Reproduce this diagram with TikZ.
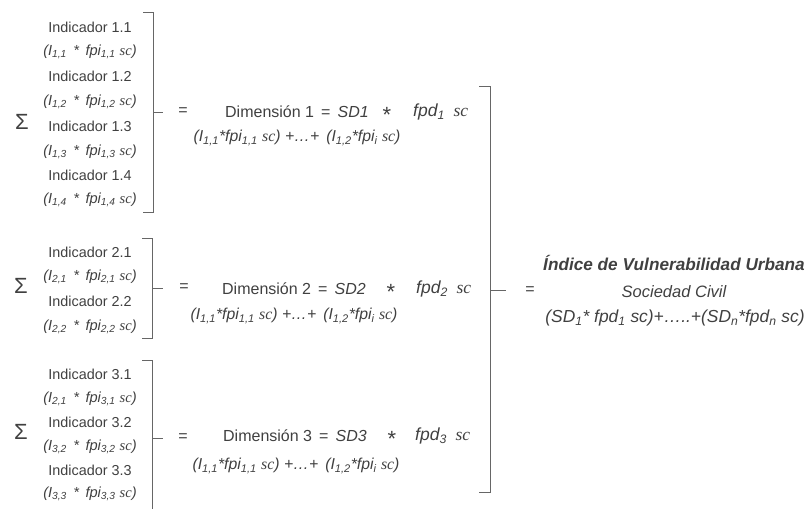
\documentclass[tikz,border=0pt]{standalone}
\usepackage{fontspec}
\setmainfont{Liberation Sans}
\newfontfamily\tms{Liberation Serif}
\definecolor{txt}{gray}{0.25}
\definecolor{ln}{gray}{0.40}
\newcommand\sbs[1]{\textsubscript{#1}}
\newcommand\scs{{\tms\itshape sc}}
\newcommand\indf[2]{(I\sbs{#1} \,*\, fpi\sbs{#2} \scs)}
\newcommand\dimf{(I\sbs{1,1}*fpi\sbs{1,1} \scs) +\ldots+ \,(I\sbs{1,2}*fpi\sbs{i} \scs)}
\newcommand\fpdf[1]{\textit{fpd\sbs{#1}}\hspace{0.5em}\scs}
\tikzset{
  lbl/.style={inner sep=0pt, text=txt, font=\fontsize{14.4}{16}\selectfont},
  frm/.style={inner sep=0pt, text=txt, font=\fontsize{14.6}{16}\selectfont\itshape},
  dimt/.style={inner sep=0pt, text=txt, font=\fontsize{16}{18}\selectfont},
  fpdt/.style={inner sep=0pt, text=txt, font=\fontsize{17.5}{18}\selectfont},
  astt/.style={inner sep=0pt, text=txt, font=\fontsize{22}{22}\selectfont},
  dimf/.style={inner sep=0pt, text=txt, font=\fontsize{15.8}{18}\selectfont\itshape},
  sig/.style={inner sep=0pt, text=txt, font=\fontsize{22}{24}\selectfont},
  eqs/.style={inner sep=0pt, text=txt, font=\fontsize{16}{18}\selectfont},
  rgt/.style={inner sep=0pt, text=txt, font=\fontsize{16.5}{19}\selectfont\itshape},
  brk/.style={draw=ln, line width=0.9pt},
}
\begin{document}
\begin{tikzpicture}[x=1pt,y=-1pt]
\useasboundingbox (0,0) rectangle (807,509);
% ---------- group 1
\node[lbl] (i11) at (90,27) {Indicador 1.1};
\node[frm] (f11) at (90,52) {\indf{1,1}{1,1}};
\node[lbl] (i12) at (90,76) {Indicador 1.2};
\node[frm] (f12) at (90,102) {\indf{1,2}{1,2}};
\node[lbl] (i13) at (90,126) {Indicador 1.3};
\node[frm] (f13) at (90,152) {\indf{1,3}{1,3}};
\node[lbl] (i14) at (90,175) {Indicador 1.4};
\node[frm] (f14) at (90,200) {\indf{1,4}{1,4}};
\node[sig] (s1) at (22,122) {Σ};
\coordinate (b1t) at (143,12);
\coordinate (b1b) at (143,212);
\coordinate (b1m) at (163,112);
\draw[brk] (b1t) -- (153,12) -- (153,212) -- (b1b);
\draw[brk] (153,112) -- (b1m);
\node[eqs] (e1) at (183,112) {=};
\node[dimt] (d1) at (297,112) {Dimensión 1 \,=\, \textit{SD1}};
\node[astt] (x1) at (387,115) {*};
\node[fpdt, anchor=west] (p1) at (413,112) {\fpdf{1}};
\node[dimf] (df1) at (297,138) {\dimf};
% ---------- group 2
\node[lbl] (i21) at (90,252) {Indicador 2.1};
\node[frm] (f21) at (90,277) {\indf{2,1}{2,1}};
\node[lbl] (i22) at (90,301) {Indicador 2.2};
\node[frm] (f22) at (90,327) {\indf{2,2}{2,2}};
\node[sig] (s2) at (21,286) {Σ};
\coordinate (b2t) at (142,238);
\coordinate (b2b) at (142,338);
\coordinate (b2m) at (163,288);
\draw[brk] (b2t) -- (152,238) -- (152,338) -- (b2b);
\draw[brk] (152,288) -- (b2m);
\node[eqs] (e2) at (184,288) {=};
\node[dimt] (d2) at (294,289) {Dimensión 2 \,=\, \textit{SD2}};
\node[astt] (x2) at (391,292) {*};
\node[fpdt, anchor=west] (p2) at (416,289) {\fpdf{2}};
\node[dimf] (df2) at (294,316) {\dimf};
% ---------- group 3
\node[lbl] (i31) at (90,374) {Indicador 3.1};
\node[frm] (f31) at (90,399) {\indf{2,1}{3,1}};
\node[lbl] (i32) at (90,422) {Indicador 3.2};
\node[frm] (f32) at (90,447) {\indf{3,2}{3,2}};
\node[lbl] (i33) at (90,470) {Indicador 3.3};
\node[frm] (f33) at (90,494) {\indf{3,3}{3,3}};
\node[sig] (s3) at (21,432) {Σ};
\coordinate (b3t) at (142,360);
\coordinate (b3b) at (152,520);
\coordinate (b3m) at (163,438);
\draw[brk] (b3t) -- (152,360) -- (b3b);
\draw[brk] (152,438) -- (b3m);
\node[eqs] (e3) at (183,438) {=};
\node[dimt] (d3) at (295,436) {Dimensión 3 \,=\, \textit{SD3}};
\node[astt] (x3) at (392,439) {*};
\node[fpdt, anchor=west] (p3) at (415,436) {\fpdf{3}};
\node[dimf] (df3) at (296,466) {\dimf};
% ---------- big bracket
\coordinate (bbt) at (479,86);
\coordinate (bbb) at (479,492);
\coordinate (bbm) at (506,290);
\draw[brk] (bbt) -- (490,86) -- (490,492) -- (bbb);
\draw[brk] (490,290) -- (bbm);
\node[eqs] (e4) at (530,291) {=};
\node[rgt, font=\fontsize{17.2}{19}\selectfont\bfseries\itshape] (r1) at (674,263) {Índice de Vulnerabilidad Urbana};
\node[rgt] (r2) at (674,292) {Sociedad Civil};
\node[rgt, font=\fontsize{17.4}{19}\selectfont\itshape] (r3) at (675,318) {(SD\sbs{1}* fpd\sbs{1} sc)+\ldots..+(SD\sbs{n}*fpd\sbs{n} sc)};
\end{tikzpicture}
\end{document}
